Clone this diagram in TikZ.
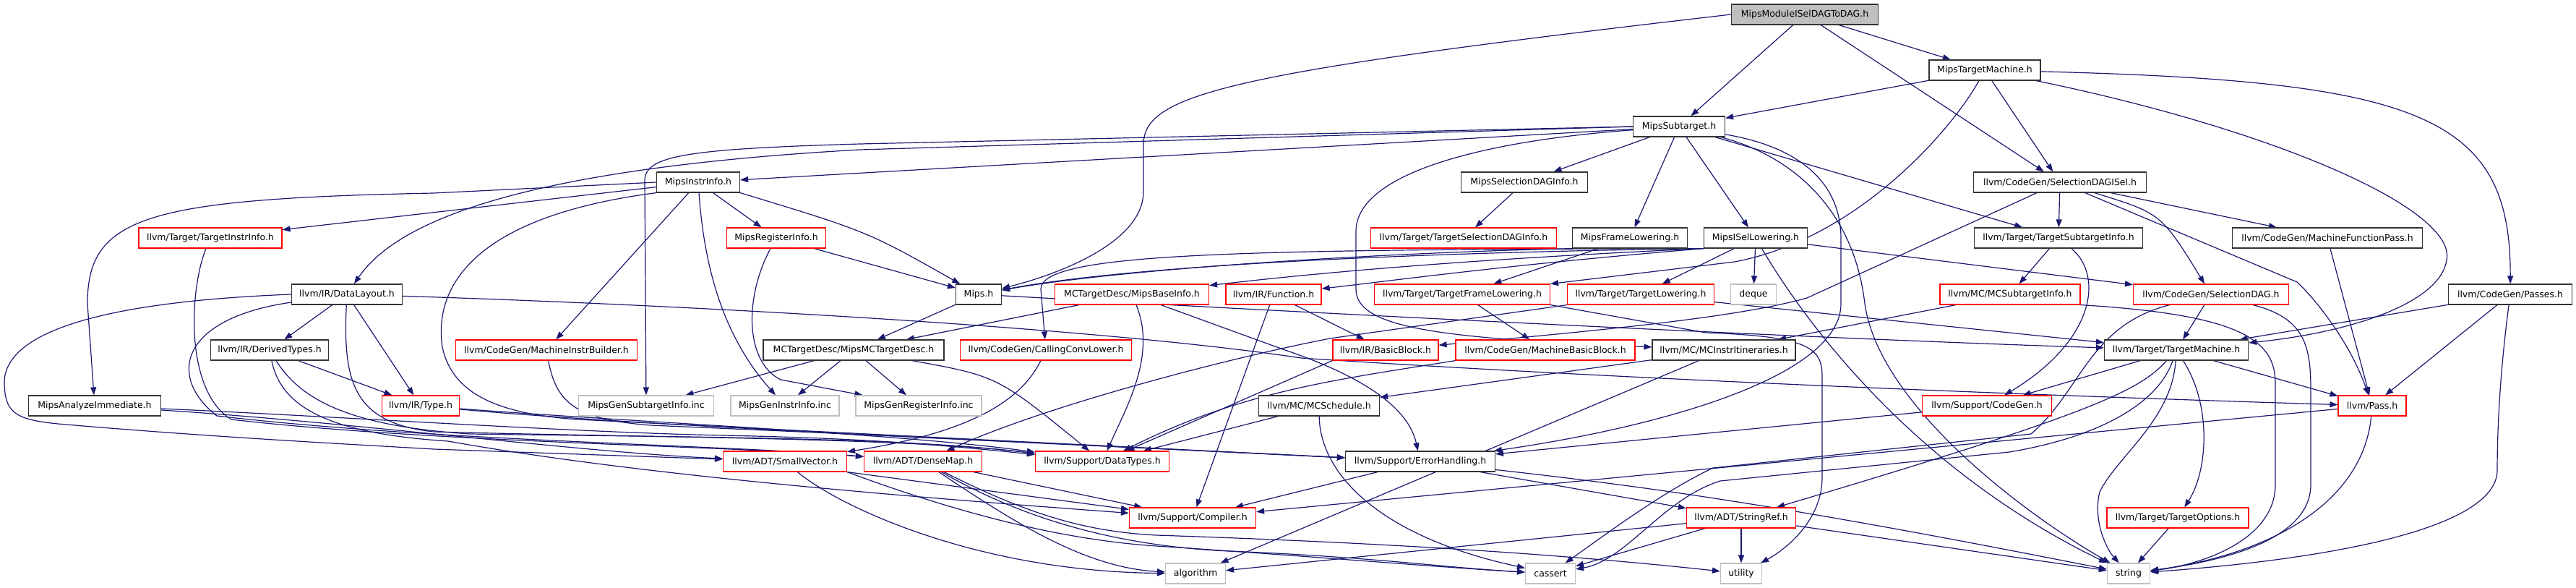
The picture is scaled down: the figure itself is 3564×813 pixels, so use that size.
\documentclass[tikz,border=0pt]{standalone}
\usepackage{fontspec}
\newfontfamily\djv{DejaVu Sans}
\usetikzlibrary{arrows.meta}
\definecolor{edgec}{HTML}{191970}
\definecolor{rootfill}{HTML}{BFBFBF}
\definecolor{graybd}{HTML}{BFBFBF}
\definecolor{redbd}{HTML}{FF0000}
\pgfdeclarelayer{bg}
\pgfsetlayers{bg,main}
\begin{document}
\begin{tikzpicture}[x=1pt,y=-1pt,
 nbase/.style={draw, line width=1.2pt, minimum height=28pt, inner sep=0pt, fill=white, font=\djv\fontsize{12.5pt}{15pt}\selectfont, text=black},
 nb/.style={nbase, draw=black!80},
 nr/.style={nbase, draw=redbd},
 ng/.style={nbase, draw=graybd},
 nroot/.style={nbase, draw=black!80, fill=rootfill},
 edg/.style={draw=edgec, line width=1.2pt, -{Triangle[length=11pt,width=8pt]}}]
\useasboundingbox (0,0) rectangle (3564,813);
% row 0-2
\node[nroot, minimum width=203pt] (root) at (2497,20) {MipsModuleISelDAGToDAG.h};
\node[nb, minimum width=154pt] (tm) at (2746,97) {MipsTargetMachine.h};
\node[nb, minimum width=127pt] (sub) at (2323,175) {MipsSubtarget.h};
% row 3
\node[nb, minimum width=115pt] (ii) at (966,252) {MipsInstrInfo.h};
\node[nb, minimum width=175pt] (sdi) at (2109,252) {MipsSelectionDAGInfo.h};
\node[nb, minimum width=239pt] (isel) at (2850,252) {llvm/CodeGen/SelectionDAGISel.h};
% row 4
\node[nr, minimum width=198pt] (tii) at (291,329) {llvm/Target/TargetInstrInfo.h};
\node[nr, minimum width=137pt] (ri) at (1074,329) {MipsRegisterInfo.h};
\node[nr, minimum width=257pt] (tsdi) at (2025,329) {llvm/Target/TargetSelectionDAGInfo.h};
\node[nb, minimum width=159pt] (fl) at (2255,329) {MipsFrameLowering.h};
\node[nb, minimum width=143pt] (isl) at (2429,329) {MipsISelLowering.h};
\node[nb, minimum width=233pt] (tsi) at (2848,329) {llvm/Target/TargetSubtargetInfo.h};
\node[nb, minimum width=263pt] (mfp) at (3220,329) {llvm/CodeGen/MachineFunctionPass.h};
% row 5
\node[nb, minimum width=153pt] (dl) at (480,407) {llvm/IR/DataLayout.h};
\node[nb, minimum width=63pt] (mips) at (1354,407) {Mips.h};
\node[nr, minimum width=213pt] (bi) at (1566,407) {MCTargetDesc/MipsBaseInfo.h};
\node[nr, minimum width=132pt] (fn) at (1762,407) {llvm/IR/Function.h};
\node[nr, minimum width=243pt] (tfl) at (2023,407) {llvm/Target/TargetFrameLowering.h};
\node[nr, minimum width=203pt] (tl) at (2270,407) {llvm/Target/TargetLowering.h};
\node[ng, minimum width=63pt] (deque) at (2426,407) {deque};
\node[nr, minimum width=194pt] (mcsi) at (2781,407) {llvm/MC/MCSubtargetInfo.h};
\node[nr, minimum width=215pt] (sdag) at (3059,407) {llvm/CodeGen/SelectionDAG.h};
\node[nb, minimum width=171pt] (passes) at (3473,407) {llvm/CodeGen/Passes.h};
% row 6
\node[nb, minimum width=163pt] (dt) at (373,484) {llvm/IR/DerivedTypes.h};
\node[nr, minimum width=251pt] (mib) at (756,484) {llvm/CodeGen/MachineInstrBuilder.h};
\node[nb, minimum width=250pt] (mctd) at (1181,484) {MCTargetDesc/MipsMCTargetDesc.h};
\node[nr, minimum width=237pt] (ccl) at (1447,484) {llvm/CodeGen/CallingConvLower.h};
\node[nr, minimum width=146pt] (bb) at (1917,484) {llvm/IR/BasicBlock.h};
\node[nr, minimum width=248pt] (mbb) at (2138,484) {llvm/CodeGen/MachineBasicBlock.h};
\node[nb, minimum width=198pt] (mcii) at (2385,484) {llvm/MC/MCInstrItineraries.h};
\node[nb, minimum width=199pt] (tmach) at (3011,484) {llvm/Target/TargetMachine.h};
% row 7
\node[nb, minimum width=183pt] (ai) at (131,561) {MipsAnalyzeImmediate.h};
\node[nr, minimum width=107pt] (type) at (582,561) {llvm/IR/Type.h};
\node[ng, minimum width=187pt] (gsi) at (894,561) {MipsGenSubtargetInfo.inc};
\node[ng, minimum width=150pt] (gii) at (1086,561) {MipsGenInstrInfo.inc};
\node[ng, minimum width=174pt] (gri) at (1271,561) {MipsGenRegisterInfo.inc};
\node[nb, minimum width=167pt] (sched) at (1825,561) {llvm/MC/MCSchedule.h};
\node[nr, minimum width=179pt] (cg) at (2749,561) {llvm/Support/CodeGen.h};
\node[nr, minimum width=94pt] (pass) at (3282,561) {llvm/Pass.h};
% row 8
\node[nr, minimum width=171pt] (sv) at (1086,638) {llvm/ADT/SmallVector.h};
\node[nr, minimum width=163pt] (dm) at (1277,638) {llvm/ADT/DenseMap.h};
\node[nr, minimum width=185pt] (dtypes) at (1525,638) {llvm/Support/DataTypes.h};
\node[nb, minimum width=207pt] (eh) at (1965,638) {llvm/Support/ErrorHandling.h};
% row 9
\node[nr, minimum width=175pt] (comp) at (1650,716) {llvm/Support/Compiler.h};
\node[nr, minimum width=151pt] (sr) at (2409,716) {llvm/ADT/StringRef.h};
\node[nr, minimum width=196pt] (topt) at (3013,716) {llvm/Target/TargetOptions.h};
% row 10
\node[ng, minimum width=83pt] (alg) at (1654,793) {algorithm};
\node[ng, minimum width=69pt] (cassert) at (2145,793) {cassert};
\node[ng, minimum width=57pt] (util) at (2409,793) {utility};
\node[ng, minimum width=59pt] (str) at (2945,793) {string};

\begin{pgfonlayer}{bg}
% root
\draw[edg] (root) -- (tm);
\draw[edg] (root) -- (sub);
\draw[edg] (root) -- (isel);
\draw[edg] (root.west) .. controls (1700,100) and (1582,130) .. (1582,200) -- (1582,265) .. controls (1582,330) and (1480,375) .. (mips);
% MipsTargetMachine
\draw[edg] (tm) -- (sub);
\draw[edg] (tm) -- (isel);
\draw[edg] (tm) .. controls (2700,180) and (2570,330) .. (2400,362) -- (tfl);
\draw[edg] (tm) .. controls (3350,112) and (3474,160) .. (passes);
\draw[edg] (tm) .. controls (3150,180) and (3400,290) .. (3385,360) .. controls (3375,420) and (3250,460) .. (tmach);
% MipsSubtarget
\draw[edg] (sub) -- (ii);
\draw[edg] (sub.west) -- (1190,207) .. controls (780,230) and (560,290) .. (dl);
\draw[edg] (sub.west) -- (1190,199) .. controls (950,206) and (892,215) .. (892,250) -- (gsi);
\draw[edg] (sub) .. controls (2050,195) and (1876,240) .. (1876,320) -- (1876,400) .. controls (1876,455) and (2000,468) .. (mcii);
\draw[edg] (sub) -- (sdi);
\draw[edg] (sub) -- (fl);
\draw[edg] (sub) -- (isl);
\draw[edg] (sub) -- (tsi);
\draw[edg] (sub) .. controls (2500,205) and (2547,260) .. (2547,330) -- (2547,420) .. controls (2547,520) and (2300,590) .. (eh);
\draw[edg] (sub) .. controls (2480,215) and (2565,290) .. (2580,420) .. controls (2600,560) and (2800,710) .. (str);
% MipsInstrInfo
\draw[edg] (ii.west) -- (600,267) .. controls (200,275) and (121,300) .. (121,420) -- (ai);
\draw[edg] (ii) -- (tii);
\draw[edg] (ii.south west) .. controls (650,300) and (600,400) .. (612,480) .. controls (625,540) and (680,572) .. (800,580) .. controls (1200,600) and (1700,625) .. (eh);
\draw[edg] (ii) -- (mib);
\draw[edg] (ii) .. controls (975,380) and (1005,470) .. (gii);
\draw[edg] (ii) -- (ri);
\draw[edg] (ii.south east) .. controls (1200,320) .. (mips);
% MipsRegisterInfo
\draw[edg] (ri) .. controls (1030,410) and (1030,500) .. (1080,525) -- (gri);
\draw[edg] (ri) -- (mips);
% others row 3/4
\draw[edg] (sdi) -- (tsdi);
\draw[edg] (isel) -- (2500,412) .. controls (2400,440) and (2200,458) .. (bb);
\draw[edg] (isel) -- (tsi);
\draw[edg] (isel) .. controls (2990,295) .. (sdag);
\draw[edg] (isel) -- (mfp);
\draw[edg] (isel) -- (3178,390) .. controls (3200,410) and (3250,470) .. (pass);
\draw[edg] (tsi) -- (mcsi);
\draw[edg] (tsi) .. controls (2910,380) and (2900,470) .. (cg);
\draw[edg] (mfp) -- (pass);
\draw[edg] (fl) -- (tfl);
\draw[edg] (fl.south west) .. controls (1900,350) and (1550,372) .. (mips);
% MipsISelLowering
\draw[edg] (isl.south west) .. controls (1900,350) and (1550,370) .. (mips);
\draw[edg] (isl.south west) .. controls (2000,360) and (1800,380) .. (bi);
\draw[edg] (isl.south west) .. controls (2100,365) and (1950,385) .. (fn);
\draw[edg] (isl.south west) .. controls (1700,345) and (1440,350) .. (1440,400) -- (ccl);
\draw[edg] (isl) -- (tl);
\draw[edg] (isl) -- (deque);
\draw[edg] (isl) -- (sdag);
\draw[edg] (isl) .. controls (2500,450) and (2650,650) .. (str);
% DataLayout
\draw[edg] (dl.west) .. controls (120,418) and (5,465) .. (6,530) .. controls (7,570) and (20,580) .. (80,586) .. controls (300,605) and (500,615) .. (600,621) -- (sv);
\draw[edg] (dl) .. controls (250,440) and (230,520) .. (300,575) .. controls (600,610) and (1000,615) .. (dm);
\draw[edg] (dl) -- (dt);
\draw[edg] (dl) -- (type);
\draw[edg] (dl) .. controls (900,420) and (1500,450) .. (1800,495) .. controls (2100,515) and (2600,540) .. (pass);
\draw[edg] (dl) .. controls (474,530) and (490,585) .. (600,597) .. controls (900,605) and (1250,605) .. (dtypes);
% TargetInstrInfo
\draw[edg] (tii) .. controls (262,400) and (255,540) .. (320,580) .. controls (600,612) and (1000,616) .. (dm);
% Mips.h
\draw[edg] (mips) -- (mctd);
\draw[edg] (mips) .. controls (1800,432) and (2500,468) .. (tmach);
% MipsBaseInfo
\draw[edg] (bi) -- (mctd);
\draw[edg] (bi) .. controls (1600,490) and (1560,560) .. (dtypes);
\draw[edg] (bi) -- (1775,483) .. controls (1900,525) and (1950,570) .. (eh);
% Function
\draw[edg] (fn) -- (bb);
\draw[edg] (fn) -- (comp);
% TargetFrameLowering
\draw[edg] (tfl) -- (mbb);
\draw[edg] (tfl.south east) -- (2360,460) .. controls (2500,465) and (2521,480) .. (2521,520) -- (2521,660) .. controls (2521,720) and (2470,760) .. (util);
% TargetLowering
\draw[edg] (tl.south west) -- (1840,468) .. controls (1700,495) and (1450,560) .. (dm);
\draw[edg] (tl) -- (tmach);
% MCSubtargetInfo
\draw[edg] (mcsi) -- (mcii);
\draw[edg] (mcsi.south east) .. controls (3100,435) and (3148,470) .. (3148,530) -- (3148,670) .. controls (3148,745) and (3050,780) .. (str);
% SelectionDAG
\draw[edg] (sdag) -- (tmach);
\draw[edg] (sdag) .. controls (2890,450) and (2880,540) .. (2810,600) -- (2370,647) .. controls (2300,680) and (2220,740) .. (cassert);
\draw[edg] (sdag) .. controls (3190,440) and (3197,480) .. (3197,540) -- (3197,670) .. controls (3197,745) and (3080,775) .. (str);
% Passes
\draw[edg] (passes) -- (pass);
\draw[edg] (passes) -- (tmach);
\draw[edg] (passes) .. controls (3458,520) and (3455,600) .. (3455,650) .. controls (3455,735) and (3200,775) .. (str);
% TargetMachine
\draw[edg] (tmach) -- (cg);
\draw[edg] (tmach) .. controls (2960,540) and (2900,570) .. (sr);
\draw[edg] (tmach) .. controls (2985,560) and (2900,605) .. (2780,625) -- (2380,665) .. controls (2300,690) and (2250,775) .. (cassert);
\draw[edg] (tmach) .. controls (3005,580) and (2930,630) .. (2905,680) .. controls (2895,720) and (2915,760) .. (str);
\draw[edg] (tmach) .. controls (3060,560) and (3055,650) .. (topt);
\draw[edg] (tmach) -- (pass);
% DerivedTypes
\draw[edg] (dt) -- (type);
\draw[edg] (dt) .. controls (390,570) and (470,600) .. (620,610) .. controls (900,660) and (1300,690) .. (comp);
\draw[edg] (dt) .. controls (420,560) and (500,590) .. (650,600) .. controls (1000,605) and (1250,605) .. (dtypes);
% MachineInstrBuilder
\draw[edg] (mib) .. controls (770,560) and (800,580) .. (900,588) .. controls (1300,605) and (1700,625) .. (eh);
% MipsMCTargetDesc
\draw[edg] (mctd) -- (gsi);
\draw[edg] (mctd) -- (gii);
\draw[edg] (mctd) -- (gri);
\draw[edg] (mctd) .. controls (1380,520) .. (dtypes);
% CallingConvLower, BasicBlock, MachineBasicBlock
\draw[edg] (ccl) .. controls (1410,560) and (1330,600) .. (sv);
\draw[edg] (bb.south west) -- (dtypes);
\draw[edg] (mbb.south west) .. controls (1850,525) and (1720,540) .. (dtypes);
% MCInstrItineraries, MCSchedule
\draw[edg] (mcii) -- (sched);
\draw[edg] (mcii) -- (alg);
\draw[edg] (sched) -- (dtypes);
\draw[edg] (sched) .. controls (1826,650) and (1900,740) .. (cassert);
% MipsAnalyzeImmediate, Type
\draw[edg] (ai) .. controls (500,585) and (800,625) .. (sv);
\draw[edg] (ai) .. controls (450,575) and (800,598) .. (1000,602) .. controls (1200,606) and (1300,615) .. (dtypes);
\draw[edg] (type) .. controls (900,585) and (1250,600) .. (dtypes);
\draw[edg] (type) .. controls (900,590) and (1500,615) .. (eh);
% CodeGen, Pass, TargetOptions
\draw[edg] (cg) -- (eh);
\draw[edg] (pass) -- (comp);
\draw[edg] (pass) .. controls (3270,690) and (3150,765) .. (str);
\draw[edg] (topt) -- (str);
% SmallVector
\draw[edg] (sv.south east) -- (comp);
\draw[edg] (sv) .. controls (1160,700) and (1350,790) .. (alg);
\draw[edg] (sv.south east) .. controls (1300,700) and (1450,745) .. (1600,755) .. controls (1800,768) and (2000,785) .. (cassert);
% DenseMap
\draw[edg] (dm) .. controls (1420,710) and (1500,735) .. (1600,740) .. controls (1900,750) and (2150,765) .. (util);
\draw[edg] (dm) .. controls (1420,720) and (1550,755) .. (1700,762) .. controls (1900,770) and (2000,785) .. (cassert);
\draw[edg] (dm) -- (comp);
\draw[edg] (dm) .. controls (1400,720) and (1500,785) .. (alg);
% ErrorHandling
\draw[edg] (eh) -- (sr);
\draw[edg] (eh) -- (comp);
\draw[edg] (eh) .. controls (2300,675) and (2500,705) .. (str);
% StringRef
\draw[edg] (sr) -- (alg);
\draw[edg] (sr) -- (cassert);
\draw[edg] (sr) -- (util);
\draw[edg] (sr) -- (str);
\end{pgfonlayer}
\end{tikzpicture}
\end{document}
